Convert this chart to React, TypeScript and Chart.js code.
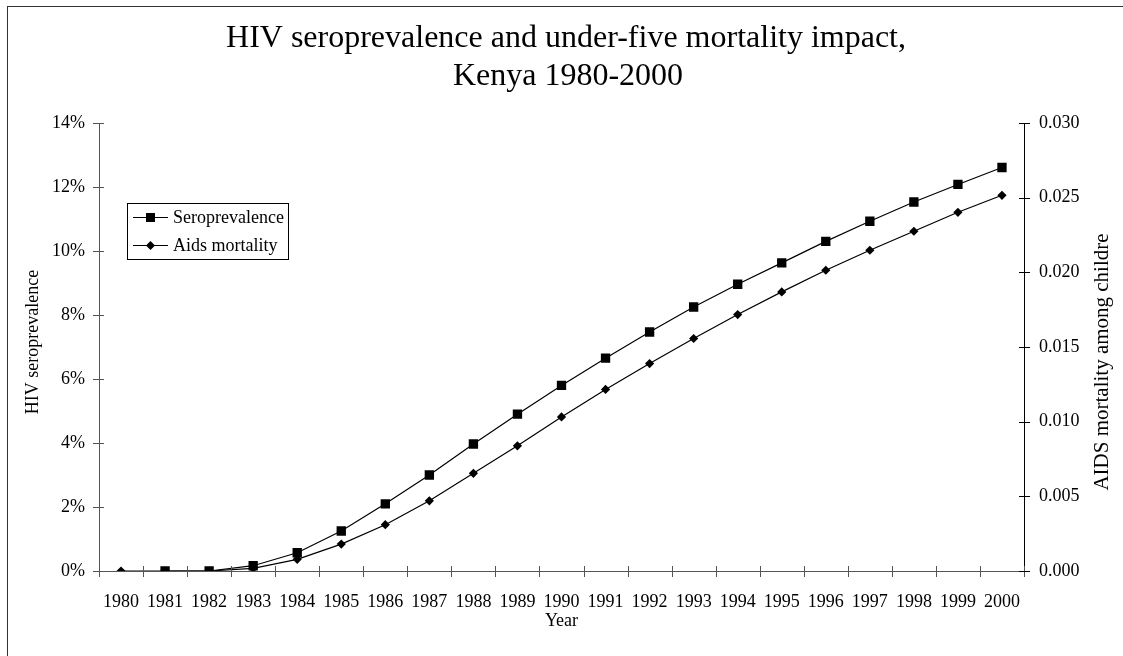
import React, { useEffect, useRef } from 'react';
import { Chart, registerables } from 'chart.js';

Chart.register(...registerables);

const years = ['1980', '1981', '1982', '1983', '1984', '1985', '1986', '1987', '1988', '1989', '1990', '1991', '1992', '1993', '1994', '1995', '1996', '1997', '1998', '1999', '2000'];
// HIV seroprevalence (fraction, left axis)
const seroprevalence = [null, 0, 0, 0.00165, 0.0057, 0.0125, 0.021, 0.030, 0.0397, 0.049, 0.058, 0.0665, 0.0747, 0.0825, 0.0896, 0.0963, 0.103, 0.1093, 0.1153, 0.1208, 0.1261];
// AIDS mortality among children (right axis)
const aidsMortality = [0, 0, 0, 0.00018, 0.00078, 0.0018, 0.0031, 0.0047, 0.00654, 0.00838, 0.01032, 0.01216, 0.01389, 0.01557, 0.01717, 0.01869, 0.02014, 0.02148, 0.02275, 0.02402, 0.02516];
const leftTickValues = [0, 0.02, 0.04, 0.06, 0.08, 0.1, 0.12, 0.14];
const rightTickValues = [0, 0.005, 0.01, 0.015, 0.02, 0.025, 0.03];

const titleLines = ['HIV seroprevalence and under-five mortality impact,', 'Kenya 1980-2000'];
const seriesNames = ['Seroprevalence', 'Aids mortality'];
const leftTitle = 'HIV seroprevalence';
const rightTitle = 'AIDS mortality among childre';
const xTitle = 'Year';

const FONT = "'Liberation Serif', 'Times New Roman', serif";

const decorations = {
  id: 'decorations',
  afterDraw(chart: any) {
    const ctx = chart.ctx as CanvasRenderingContext2D;
    const area = chart.chartArea;
    const yl = chart.scales.y;
    const yr = chart.scales.y2;
    ctx.save();
    // outer border
    ctx.strokeStyle = '#333';
    ctx.lineWidth = 1;
    ctx.strokeRect(7.5, 6.5, 3000, 3000);

    // crossing tick marks
    ctx.lineWidth = 1;
    ctx.strokeStyle = '#555';
    ctx.beginPath();
    yl.ticks.forEach((t: any) => {
      const y = Math.round(yl.getPixelForValue(t.value)) + 0.5;
      ctx.moveTo(area.left - 6, y);
      ctx.lineTo(area.left + 5, y);
    });
    const n = years.length;
    const w = (area.right - area.left) / n;
    for (let i = 0; i <= n; i++) {
      const x = Math.round(area.left + i * w) + 0.5;
      ctx.moveTo(x, area.bottom - 5);
      ctx.lineTo(x, area.bottom + 6);
    }
    ctx.stroke();
    ctx.strokeStyle = '#000';
    ctx.beginPath();
    yr.ticks.forEach((t: any) => {
      const y = Math.round(yr.getPixelForValue(t.value)) + 0.5;
      ctx.moveTo(area.right - 5, y);
      ctx.lineTo(area.right + 6, y);
    });
    ctx.stroke();

    ctx.fillStyle = '#000';
    // title
    ctx.font = `32px ${FONT}`;
    ctx.textAlign = 'center';
    ctx.textBaseline = 'alphabetic';
    ctx.fillText(titleLines[0], 566, 47);
    ctx.fillText(titleLines[1], 568, 85);

    // axis titles
    ctx.font = `18px ${FONT}`;
    ctx.textBaseline = 'middle';
    ctx.fillText(xTitle, (area.left + area.right) / 2, 621);
    ctx.save();
    ctx.translate(33, 342);
    ctx.rotate(-Math.PI / 2);
    ctx.fillText(leftTitle, 0, 0);
    ctx.restore();
    ctx.save();
    ctx.font = `21px ${FONT}`;
    ctx.translate(1102, 362);
    ctx.rotate(-Math.PI / 2);
    ctx.fillText(rightTitle, 0, 0);
    ctx.restore();

    // legend
    ctx.strokeStyle = '#000';
    ctx.lineWidth = 1;
    ctx.strokeRect(127.5, 203.5, 161, 56);
    const rows = [217, 245];
    rows.forEach((ry, i) => {
      ctx.beginPath();
      ctx.moveTo(133, ry + 0.5);
      ctx.lineTo(168, ry + 0.5);
      ctx.stroke();
      ctx.beginPath();
      if (i === 0) {
        ctx.rect(146, ry - 4, 9, 9);
      } else {
        ctx.moveTo(150.5 - 4.5, ry + 0.5);
        ctx.lineTo(150.5, ry + 0.5 - 4.5);
        ctx.lineTo(150.5 + 4.5, ry + 0.5);
        ctx.lineTo(150.5, ry + 0.5 + 4.5);
        ctx.closePath();
      }
      ctx.fill();
      ctx.textAlign = 'left';
      ctx.textBaseline = 'middle';
      ctx.fillText(seriesNames[i], 173, ry + 1);
    });
    ctx.restore();
  },
};

export default function App() {
  const ref = useRef<HTMLCanvasElement | null>(null);
  useEffect(() => {
    if (!ref.current) return;
    const chart = new Chart(ref.current, {
      type: 'line',
      data: {
        labels: years,
        datasets: [
          {
            label: seriesNames[0],
            data: seroprevalence,
            yAxisID: 'y',
            borderColor: '#000',
            backgroundColor: '#000',
            borderWidth: 1.2,
            pointStyle: 'rect',
            pointRadius: 6.6,
            pointBorderWidth: 0,
            tension: 0,
            spanGaps: false,
          },
          {
            label: seriesNames[1],
            data: aidsMortality,
            yAxisID: 'y2',
            borderColor: '#000',
            backgroundColor: '#000',
            borderWidth: 1.2,
            pointStyle: 'rectRot',
            pointRadius: 4.6,
            pointBorderWidth: 0,
            tension: 0,
          },
        ],
      },
      options: {
        responsive: false,
        animation: false,
        layout: { padding: { top: 123, left: 0, right: 0, bottom: 0 } },
        plugins: {
          legend: { display: false },
          title: { display: false },
          tooltip: { enabled: false },
        },
        scales: {
          x: {
            type: 'category',
            offset: true,
            grid: { display: true, drawOnChartArea: false, drawTicks: false, offset: true },
            border: { display: true, color: '#555', width: 1 },
            ticks: { color: '#000', font: { family: FONT, size: 18 }, padding: 20, maxRotation: 0, autoSkip: false },
            afterFit: (s: any) => { s.height = 85; },
          },
          y: {
            position: 'left',
            min: 0,
            max: 0.14,
            afterBuildTicks: (s: any) => { s.ticks = leftTickValues.map((v) => ({ value: v })); },
            grid: { drawOnChartArea: false, drawTicks: false },
            border: { display: true, color: '#555', width: 1 },
            ticks: {
              color: '#000',
              font: { family: FONT, size: 18 },
              padding: 14,
              callback: (v: any) => `${Math.round(Number(v) * 100)}%`,
            },
            afterFit: (s: any) => { s.width = 99; },
          },
          y2: {
            position: 'right',
            min: 0,
            max: 0.03,
            afterBuildTicks: (s: any) => { s.ticks = rightTickValues.map((v) => ({ value: v })); },
            grid: { drawOnChartArea: false, drawTicks: false },
            border: { display: true, color: '#000', width: 1 },
            ticks: {
              color: '#000',
              font: { family: FONT, size: 18 },
              padding: 15,
              callback: (v: any) => Number(v).toFixed(3),
            },
            afterFit: (s: any) => { s.width = 99; },
          },
        },
      },
      plugins: [decorations],
    });
    return () => chart.destroy();
  }, []);
  return (
    <div style={{ position: 'absolute', left: 0, top: 0, width: 1123, height: 656, background: '#fff' }}>
      <canvas ref={ref} width={1123} height={656} style={{ display: 'block' }} />
    </div>
  );
}
